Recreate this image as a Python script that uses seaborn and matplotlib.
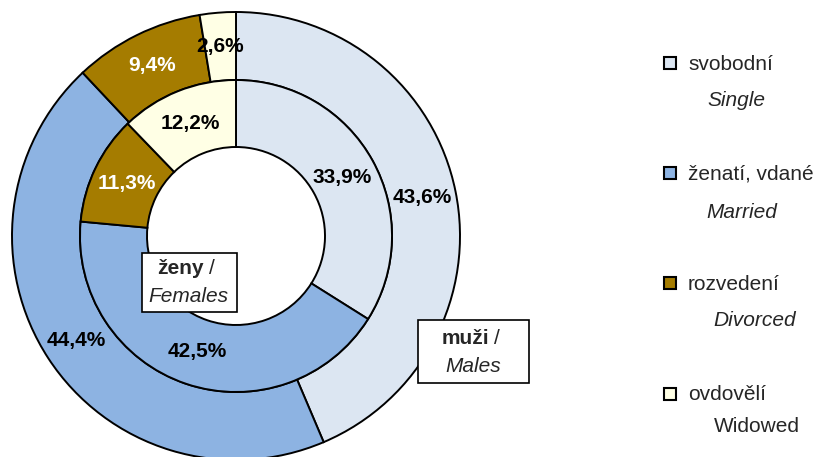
import seaborn as sns
import matplotlib.pyplot as plt
from matplotlib.patches import Rectangle

# marital status shares (%) - outer ring males, inner ring females
status_cz = ["svobodní", "ženatí, vdané", "rozvedení", "ovdovělí"]
status_en = ["Single", "Married", "Divorced", "Widowed"]
males = [43.6, 44.4, 9.4, 2.6]
females = [33.9, 42.5, 11.3, 12.2]

colors = ["#DCE6F2", "#8DB3E2", "#A57C00", "#FFFFE5"]
label_colors = ["black", "black", "white", "black"]

sns.set_theme(style="white")
plt.rcParams["font.family"] = ["Liberation Sans", "DejaVu Sans"]

W, H = 818, 457
fig = plt.figure(figsize=(W / 100, H / 100), dpi=100)
ax = fig.add_axes([0, 0, 1, 1])
palette = sns.color_palette(colors)

cx, cy = 236, H - 236
r_out, r_mid, r_in = 224, 156, 89
fs = 15


def fmt(p):
    return f"{p:.1f}%".replace(".", ",")


edge = dict(edgecolor="black", linewidth=1.4)
_, _, out_txt = ax.pie(males, colors=palette, radius=r_out, center=(cx, cy),
                       startangle=90, counterclock=False, autopct=fmt,
                       pctdistance=0.85, wedgeprops=dict(width=r_out - r_mid, **edge),
                       textprops=dict(fontsize=fs, fontweight="bold"))
_, _, in_txt = ax.pie(females, colors=palette, radius=r_mid, center=(cx, cy),
                      startangle=90, counterclock=False, autopct=fmt,
                      pctdistance=0.78, wedgeprops=dict(width=r_mid - r_in, **edge),
                      textprops=dict(fontsize=fs, fontweight="bold"))
for t, c in zip(out_txt, label_colors):
    t.set_color(c)
for t, c in zip(in_txt, label_colors):
    t.set_color(c)

ax.set_xlim(0, W)
ax.set_ylim(0, H)
ax.set_aspect("equal")
ax.axis("off")

# overlay in pixel coords for boxes and legend
ov = fig.add_axes([0, 0, 1, 1])
ov.set_xlim(0, W)
ov.set_ylim(H, 0)
ov.axis("off")

# ring name boxes
ov.add_patch(Rectangle((142, 253), 95, 59, facecolor="white", edgecolor="black", lw=1.2))
ov.text(157, 269, "ženy", fontsize=fs, fontweight="bold", va="center", ha="left")
ov.text(209, 269, "/", fontsize=fs, va="center", ha="left")
ov.text(188, 296, "Females", fontsize=fs, style="italic", va="center", ha="center")

ov.add_patch(Rectangle((418, 320), 111, 63, facecolor="white", edgecolor="black", lw=1.2))
ov.text(442, 338, "muži", fontsize=fs, fontweight="bold", va="center", ha="left")
ov.text(494, 338, "/", fontsize=fs, va="center", ha="left")
ov.text(473, 366, "Males", fontsize=fs, style="italic", va="center", ha="center")

# legend
row_y = [63, 173, 283, 394]
sub_x = [707, 706, 713, 714]
sub_dy = [38, 39, 37, 33]
for i in range(len(status_cz)):
    y = row_y[i]
    ov.add_patch(Rectangle((664, y - 6), 12, 12, facecolor=palette[i],
                           edgecolor="black", lw=1.5))
    ov.text(688, y + 1, status_cz[i], fontsize=fs, va="center", ha="left")
    ov.text(sub_x[i], y + sub_dy[i], status_en[i], fontsize=fs,
            style="normal" if i == 3 else "italic", va="center", ha="left")

fig.savefig("out.png", dpi=100)
plt.close(fig)
